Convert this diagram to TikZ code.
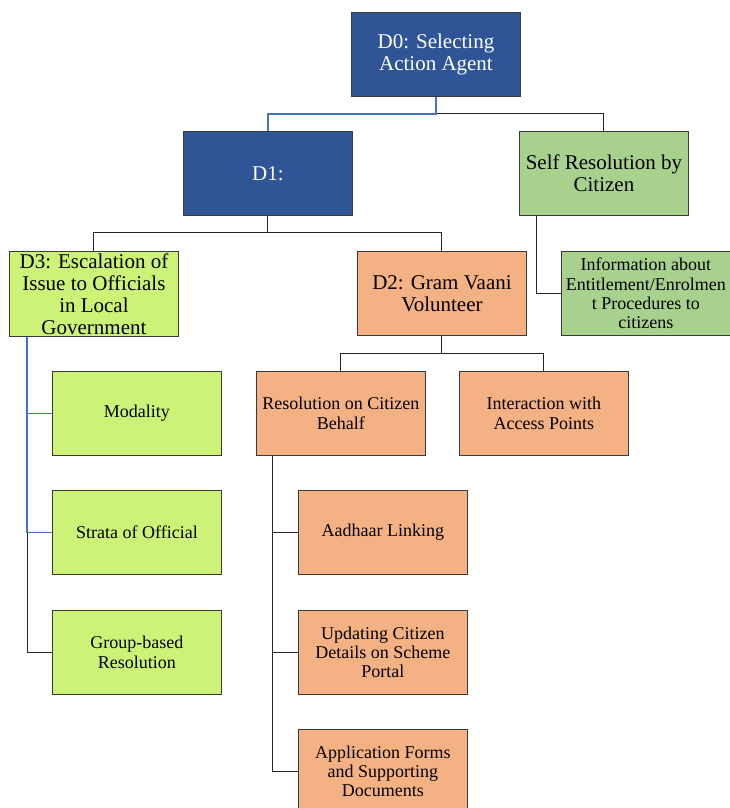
\documentclass[tikz,border=0pt]{standalone}
\usepackage{fontspec}
\setmainfont{Liberation Serif}
\definecolor{dblue}{HTML}{2F5597}
\definecolor{lgreen}{HTML}{CCF277}
\definecolor{mgreen}{HTML}{A9D18E}
\definecolor{orng}{HTML}{F4B183}
\definecolor{conblue}{HTML}{4472C4}
\definecolor{bordc}{HTML}{3A3A3A}
\begin{document}
\begin{tikzpicture}[x=1pt,y=-1pt,
  box/.style={draw=bordc, line width=0.9pt, anchor=north west, minimum width=169pt, minimum height=84pt, inner sep=2pt, align=center},
  bigtext/.style={font=\fontsize{21}{22}\selectfont},
  smalltext/.style={font=\fontsize{18}{19.3}\selectfont},
  bluebox/.style={box, bigtext, fill=dblue, text=white},
  limebox/.style={box, fill=lgreen},
  greenbox/.style={box, fill=mgreen},
  orangebox/.style={box, fill=orng},
  conn/.style={draw=black!85, line width=1pt},
  bconn/.style={draw=conblue, line width=1.8pt}
]
\useasboundingbox (0,0) rectangle (729,808);

\node[bluebox] (d0) at (351,12) {D0: Selecting\\Action Agent};
\node[bluebox] (d1) at (183,131) {D1:};
\node[greenbox, bigtext] (self) at (519,131) {Self Resolution by\\Citizen};
\node[limebox, bigtext] (d3) at (9,251) {D3: Escalation of\\Issue to Officials\\in Local\\Government};
\node[orangebox, bigtext] (d2) at (357,251) {D2: Gram Vaani\\Volunteer};
\node[greenbox, smalltext] (info) at (561,251) {Information about\\Entitlement/Enrolmen\\t Procedures to\\citizens};
\node[limebox, smalltext] (mod) at (52,371) {Modality};
\node[orangebox, smalltext] (res) at (256,371) {Resolution on Citizen\\Behalf};
\node[orangebox, smalltext] (inter) at (459,371) {Interaction with\\Access Points};
\node[limebox, smalltext] (strata) at (52,490) {Strata of Official};
\node[orangebox, smalltext] (aad) at (298,490) {Aadhaar Linking};
\node[limebox, smalltext] (group) at (52,610) {Group-based\\Resolution};
\node[orangebox, smalltext] (upd) at (298,610) {Updating Citizen\\Details on Scheme\\Portal};
\node[orangebox, smalltext] (app) at (298,729) {Application Forms\\and Supporting\\Documents};

% D0 children
\coordinate (j0) at ([yshift=-17pt]d0.south);
\draw[conn] (j0) -| (self.north);
\draw[bconn] (d0.south) -- (j0) -| (d1.north);

% D1 children
\coordinate (j1) at ([yshift=-17pt]d1.south);
\draw[conn] (d1.south) -- (j1);
\draw[conn] (j1) -| (d3.north);
\draw[conn] (j1) -| (d2.north);

% Self resolution child
\coordinate (s0) at ([xshift=17pt]self.south west);
\draw[conn] (s0) |- (info.west);

% D2 children
\coordinate (j2) at ([yshift=-18pt]d2.south);
\draw[conn] (d2.south) -- (j2);
\draw[conn] (j2) -| (res.north);
\draw[conn] (j2) -| (inter.north);

% D3 children
\coordinate (t0) at ([xshift=18pt]d3.south west);
\coordinate (t1) at (t0 |- strata.west);
\draw[conn] (t1) |- (group.west);
\draw[bconn] (t0) |- (mod.west);
\draw[bconn] (t0) |- (strata.west);

% Resolution children
\coordinate (r0) at ([xshift=16pt]res.south west);
\draw[conn] (r0) |- (aad.west);
\draw[conn] (r0) |- (upd.west);
\draw[conn] (r0) |- (app.west);
\end{tikzpicture}
\end{document}
